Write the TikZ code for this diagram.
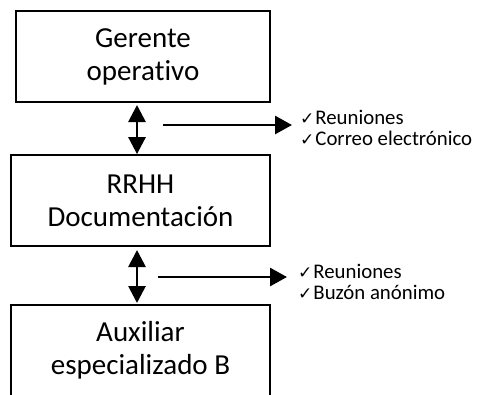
\documentclass[tikz,border=0pt]{standalone}
\usepackage{fontspec}
\setmainfont[Ligatures={NoCommon}]{Carlito}
\newfontfamily\symfont{DejaVu Sans}
\usetikzlibrary{arrows.meta}
\newcommand{\chk}{{\symfont\fontsize{17pt}{17pt}\selectfont ✓}\hspace{1pt}}
\tikzset{
  x=1pt, y=-1pt,
  boxtext/.style={align=center, font=\fontsize{29pt}{33pt}\selectfont, inner sep=0pt},
  frame/.style={draw, line width=1.8pt},
  listtext/.style={align=left, anchor=west, inner sep=0pt, font=\fontsize{20.8pt}{21pt}\selectfont},
  bigarrow/.style={line width=2.8pt, -{Triangle[length=17pt,width=18pt]}},
  dblarrow/.style={line width=2.8pt, {Triangle[length=17pt,width=17pt]}-{Triangle[length=17pt,width=17pt]}}
}
\begin{document}
\begin{tikzpicture}
\useasboundingbox (0,0) rectangle (479,394);
% boxes
\node[frame, boxtext, minimum width=254pt, minimum height=91pt] (b1) at (143,56.5) {Gerente\\operativo};
\node[frame, boxtext, minimum width=259pt, minimum height=91pt] (b2) at (140.5,200.5) {RRHH\\Documentación};
\node[boxtext, minimum width=259pt, minimum height=90pt] (b3) at (140.5,350) {Auxiliar\\especializado B};
\draw[line width=1.8pt] ([yshift=-2pt]b3.south west) -- (b3.north west) -- (b3.north east) -- ([yshift=-2pt]b3.south east);
% vertical double arrows
\coordinate (a1s) at (137,105);
\coordinate (a2s) at (137,250);
\coordinate (a2e) at (137,303);
\draw[dblarrow] (a1s) -- (a1s |- b2.north);
\draw[dblarrow] (a2s) -- (a2e);
% lists
\node[listtext] (l1) at (300,128) {\chk Reuniones\\\chk Correo electrónico};
\node[listtext] (l2) at (298,282) {\chk Reuniones\\\chk Buzón anónimo};
\coordinate (h1) at (163,125);
\coordinate (h2) at (158,277);
\draw[bigarrow] (h1) -- (h1 -| 292,0);
\draw[bigarrow] (h2) -- (h2 -| 287,0);
\end{tikzpicture}
\end{document}
